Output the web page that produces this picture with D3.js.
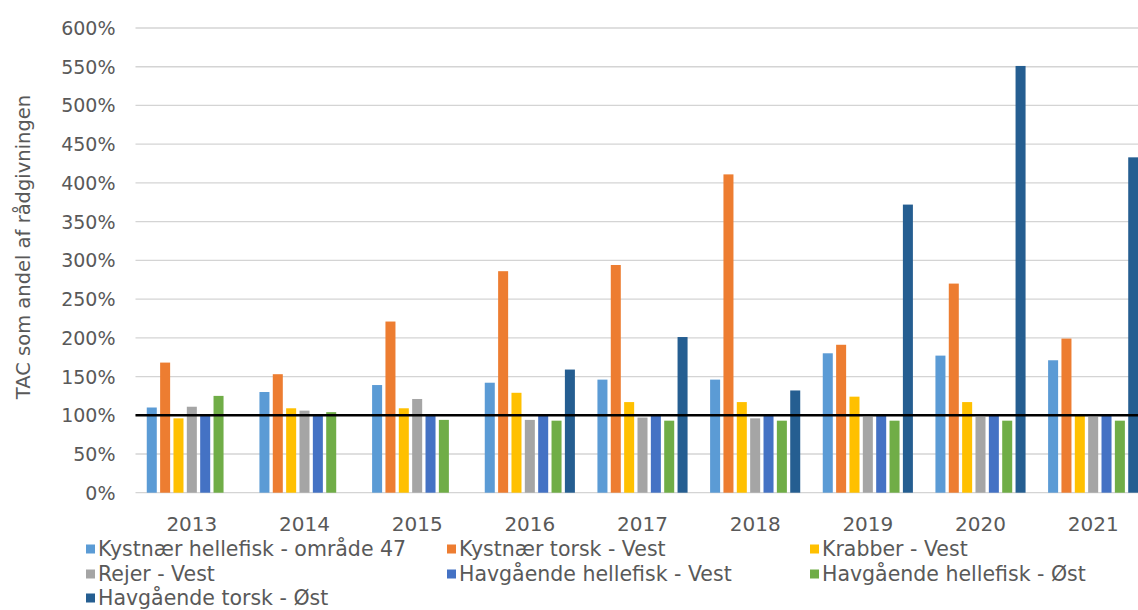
<!DOCTYPE html>
<html>
<head>
<meta charset="utf-8">
<script src="https://cdn.jsdelivr.net/npm/d3@7"></script>
<style>
  html, body { margin: 0; padding: 0; background: #ffffff; }
  svg { display: block; }
  text { font-family: "DejaVu Sans", sans-serif; fill: #595959; }
</style>
</head>
<body>
<svg id="chart" width="1138" height="610"></svg>
<script>
// ---- data ----
const years = ["2013", "2014", "2015", "2016", "2017", "2018", "2019", "2020", "2021"];
const seriesNames = [
  "Kystnær hellefisk - område 47",
  "Kystnær torsk - Vest",
  "Krabber - Vest",
  "Rejer - Vest",
  "Havgående hellefisk - Vest",
  "Havgående hellefisk - Øst",
  "Havgående torsk - Øst"
];
const kystHellefisk47 = [110, 130, 139, 142, 146, 146, 180, 177, 171];
const kystTorskVest   = [168, 153, 221, 286, 294, 411, 191, 270, 199];
const krabberVest     = [96, 109, 109, 129, 117, 117, 124, 117, 100];
const rejerVest       = [111, 106, 121, 94, 97, 96, 98, 98, 98];
const havHellefiskVest= [100, 100, 100, 100, 100, 100, 100, 100, 100];
const havHellefiskOst = [125, 104, 94, 93, 93, 93, 93, 93, 93];
const havTorskOst     = [null, null, null, 159, 201, 132, 372, 551, 433];
const yTicks = [0, 50, 100, 150, 200, 250, 300, 350, 400, 450, 500, 550, 600];
const colors = ["#5B9BD5", "#ED7D31", "#FFC000", "#A5A5A5", "#4472C4", "#70AD47", "#255E91"];
const referenceLine = 100;
const yTitle = "TAC som andel af rådgivningen";

const seriesValues = [kystHellefisk47, kystTorskVest, krabberVest, rejerVest, havHellefiskVest, havHellefiskOst, havTorskOst];

// ---- layout ----
const svg = d3.select("#chart");
const plot = { left: 135.5, right: 1149.5, top: 28, bottom: 492.7 };

const x0 = d3.scaleBand().domain(years).range([plot.left, plot.right]).paddingInner(0).paddingOuter(0);
const bw = x0.bandwidth();
const x1 = d3.scaleBand().domain(d3.range(seriesNames.length))
  .range([bw * 0.1, bw * 0.9]).paddingInner(0.25).paddingOuter(0);
const y = d3.scaleLinear().domain([0, 600]).range([plot.bottom, plot.top]);

// gridlines
svg.append("g").selectAll("line").data(yTicks).join("line")
  .attr("x1", plot.left).attr("x2", plot.right)
  .attr("y1", d => y(d)).attr("y2", d => y(d))
  .attr("stroke", "#D4D4D4").attr("stroke-width", 1.3);

// y tick labels
svg.append("g").selectAll("text").data(yTicks).join("text")
  .attr("x", plot.left - 20).attr("y", d => y(d))
  .attr("text-anchor", "end").attr("dominant-baseline", "central")
  .style("font-size", "19px")
  .text(d => d + "%");

// y title
svg.append("text")
  .attr("transform", `translate(23, 247) rotate(-90)`)
  .attr("text-anchor", "middle").attr("dominant-baseline", "central")
  .style("font-size", "19.5px")
  .text(yTitle);

// bars
const groups = svg.append("g").selectAll("g").data(years).join("g")
  .attr("transform", d => `translate(${x0(d)},0)`);
groups.selectAll("rect")
  .data((yr, i) => seriesValues.map((arr, s) => ({ s, v: arr[i] })).filter(d => d.v != null))
  .join("rect")
  .attr("x", d => x1(d.s)).attr("width", x1.bandwidth())
  .attr("y", d => y(d.v)).attr("height", d => y(0) - y(d.v))
  .attr("fill", d => colors[d.s]);

// reference line at 100%
svg.append("line")
  .attr("x1", plot.left).attr("x2", plot.right)
  .attr("y1", y(referenceLine)).attr("y2", y(referenceLine))
  .attr("stroke", "#000").attr("stroke-width", 2.5);

// x labels
svg.append("g").selectAll("text").data(years).join("text")
  .attr("x", d => x0(d) + bw / 2).attr("y", 524)
  .attr("text-anchor", "middle").attr("dominant-baseline", "central")
  .style("font-size", "20px")
  .text(d => d);

// legend
const legCols = [86, 447, 810];
const legRows = [549, 574, 598];
const leg = svg.append("g").selectAll("g").data(seriesNames).join("g")
  .attr("transform", (d, i) => `translate(${legCols[i % 3]},${legRows[Math.floor(i / 3)]})`);
leg.append("rect").attr("x", 0).attr("y", -4.5).attr("width", 9).attr("height", 9)
  .attr("fill", (d, i) => colors[i]);
leg.append("text").attr("x", 12).attr("y", 0).attr("dominant-baseline", "central")
  .style("font-size", "20.5px")
  .text(d => d);
</script>
</body>
</html>
